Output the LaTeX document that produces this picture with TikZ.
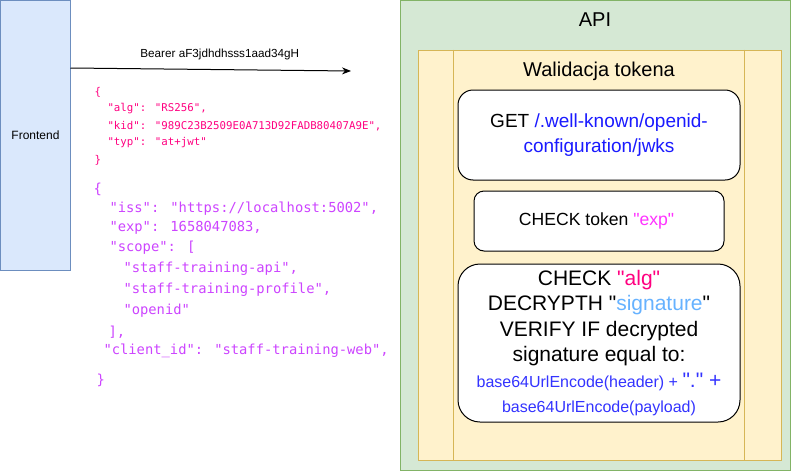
\documentclass[tikz,border=0pt]{standalone}
\usepackage{fontspec}
\setmainfont{Liberation Sans}[Ligatures=TeXOff]
\newfontfamily\jsonfont{DejaVu Sans Mono}
\usetikzlibrary{positioning,arrows.meta}
\definecolor{frontfill}{HTML}{DAE8FC}
\definecolor{frontline}{HTML}{6C8EBF}
\definecolor{apifill}{HTML}{D5E8D4}
\definecolor{apiline}{HTML}{82B366}
\definecolor{checkfill}{HTML}{FFF2CC}
\definecolor{checkline}{HTML}{D6B656}
\definecolor{headerpink}{HTML}{FF0080}
\definecolor{payloadviolet}{HTML}{CC44FF}
\definecolor{urlblue}{HTML}{1A1AFF}
\definecolor{exppink}{HTML}{FF33FF}
\definecolor{sigblue}{HTML}{66B2FF}
\definecolor{encblue}{HTML}{3333FF}

\begin{document}
\begin{tikzpicture}[x = 1pt, y = -1pt, line width = 1pt,
    container/.style = { draw, shape = rectangle, inner sep = 0pt },
    stepbox/.style = { draw = black, fill = white, rounded corners = #1, align = center, inner sep = 0pt },
    title/.style = { font = \fontsize{20}{24}\selectfont },
    header/.style = { anchor = west, inner sep = 0pt, text = headerpink, font = \jsonfont\fontsize{10.75}{13}\selectfont },
    payload/.style = { anchor = west, inner sep = 0pt, text = payloadviolet, font = \jsonfont\fontsize{13.8}{16}\selectfont }]
  \useasboundingbox (0,0) rectangle (791,471);

  % client side
  \node [container, fill = frontfill, draw = frontline, minimum width = 70pt, minimum height = 270pt,
    font = \fontsize{12}{14}\selectfont] (frontend) at (35.5,135) { Frontend };
  \coordinate (tokenstart) at (70.5,68);
  \coordinate (tokenend) at (351,71);
  \draw [-{Stealth[length = 9pt, width = 7pt]}] (tokenstart) -- (tokenend)
    node [midway, above = 6pt, xshift = 9pt, font = \fontsize{11.7}{14}\selectfont] (bearer) { Bearer aF3jdhdhsss1aad34gH };

  % decoded token
  \foreach \x/\y/\t [count = \i] in {94/92/{\{}, 107/109/{"alg": "RS256",},
      107/126/{"kid": "989C23B2509E0A713D92FADB80407A9E",}, 107/143/{"typ": "at+jwt"}, 94/160/{\}}}
    \node [header] (header\i) at (\x,\y) { \t };
  \foreach \x/\y/\t [count = \i] in {93/189/{\{}, 109/209/{"iss": "https://localhost:5002",},
      109/228/{"exp": 1658047083,}, 109/248/{"scope": [}, 123/269/{"staff-training-api",},
      123/290/{"staff-training-profile",}, 123/311/{"openid"}, 108/332/{],},
      103/351/{"client\_id": "staff-training-web",}, 96/380/{\}}}
    \node [payload] (payload\i) at (\x,\y) { \t };

  % server side
  \node [container, fill = apifill, draw = apiline, minimum width = 390pt, minimum height = 470pt] (api) at (595,235) {};
  \node [title] (apititle) at (595,20) { API };
  \node [container, fill = checkfill, draw = checkline, minimum width = 363pt, minimum height = 410pt] (validation) at (599.5,255) {};
  \draw [checkline] ([xshift = 36pt] validation.north west) -- ([xshift = 36pt] validation.south west);
  \draw [checkline] ([xshift = -37pt] validation.north east) -- ([xshift = -37pt] validation.south east);
  \node [title] (validationtitle) at (599,71) { Walidacja tokena };

  \node [stepbox = 15pt, minimum width = 282pt, minimum height = 90pt, font = \fontsize{19}{25}\selectfont]
    (jwks) at (599,135) { GET \textcolor{urlblue}{/.well-known/openid-} \\ \textcolor{urlblue}{configuration/jwks} };
  \node [stepbox = 10pt, minimum width = 250pt, minimum height = 60pt, font = \fontsize{17.6}{20}\selectfont,
    below = 10pt of jwks] (expiry) { CHECK token \textcolor{exppink}{"exp"} };
  \node [stepbox = 22pt, minimum width = 282pt, minimum height = 158pt, font = \fontsize{21}{25.4}\selectfont,
    below = 12pt of expiry] (signature) { CHECK \textcolor{headerpink}{"alg"} \\
      DECRYPTH "\textcolor{sigblue}{signature}" \\ VERIFY IF decrypted \\ signature equal to: \\
      \textcolor{encblue}{{\fontsize{16}{20}\selectfont base64UrlEncode(header) + }"." +} \\
      \textcolor{encblue}{\fontsize{16}{20}\selectfont base64UrlEncode(payload)} };
\end{tikzpicture}
\end{document}
